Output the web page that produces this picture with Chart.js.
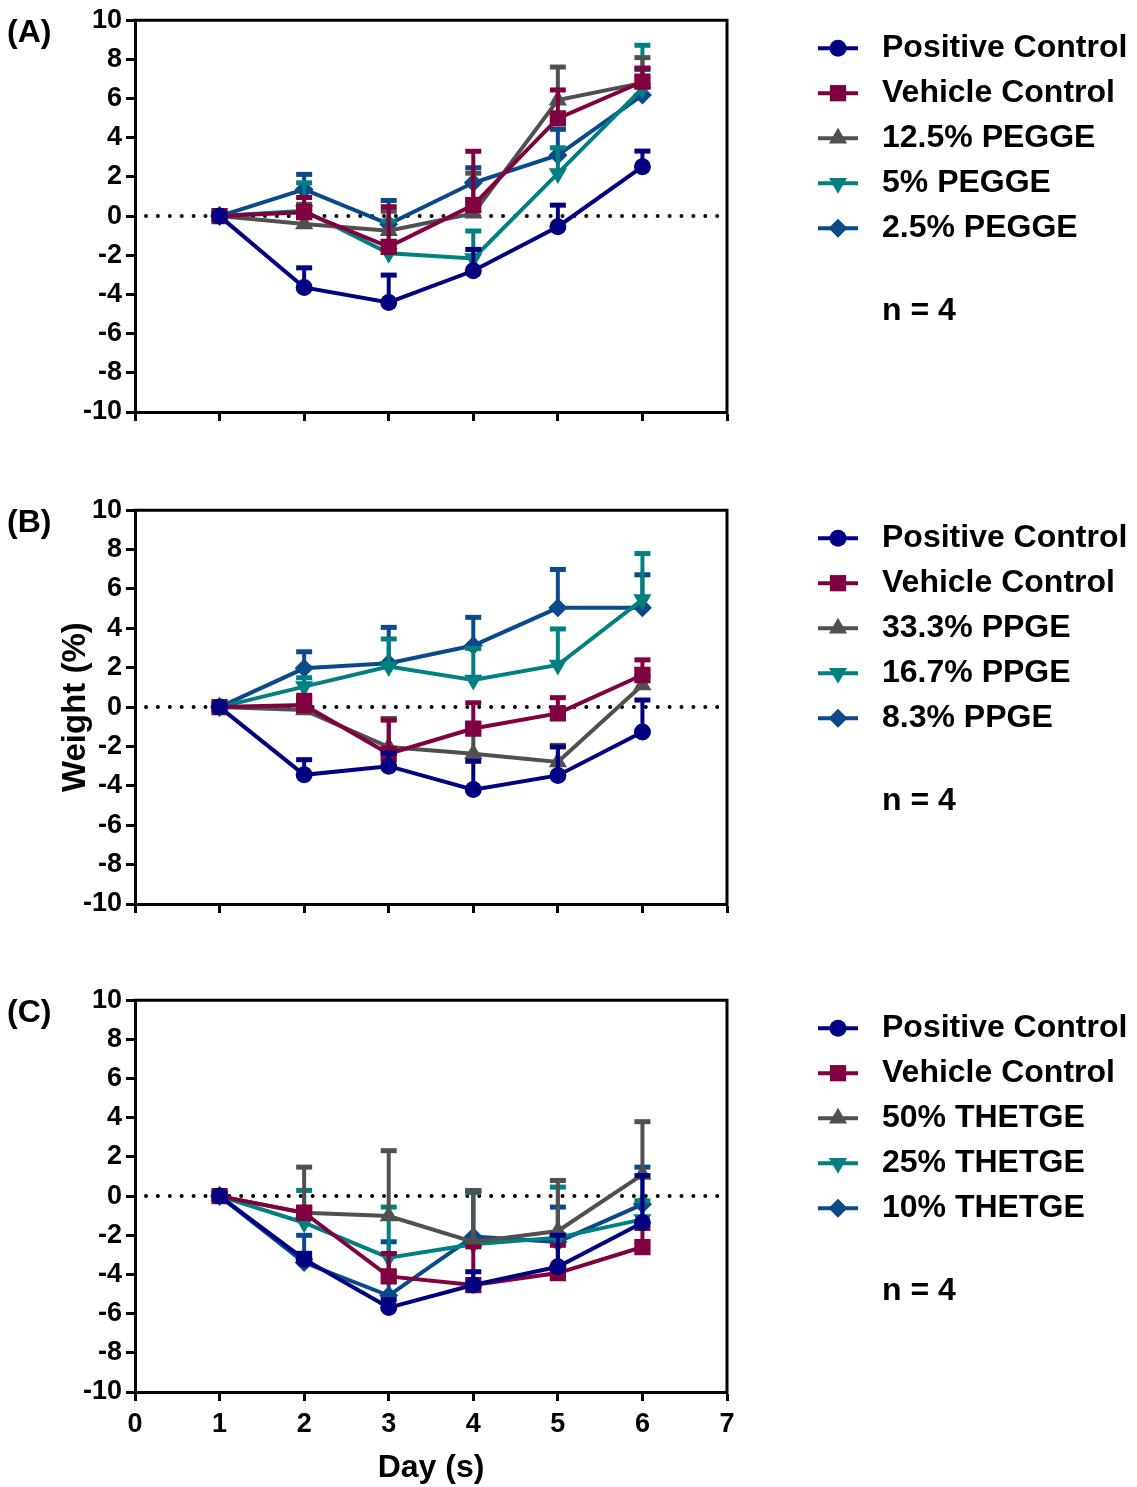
<!DOCTYPE html>
<html>
<head>
<meta charset="utf-8">
<title>Weight change</title>
<script src="https://cdn.jsdelivr.net/npm/chart.js@4.4.1/dist/chart.umd.min.js"></script>
<style>
  body { margin: 0; background: #fff; }
  #wrap { position: relative; width: 1137px; height: 1487px; }
  canvas { position: absolute; left: 0; }
</style>
</head>
<body>
<div id="wrap">
  <canvas id="panelA" width="1137" height="490" style="top:0px"></canvas>
  <canvas id="panelB" width="1137" height="490" style="top:490px"></canvas>
  <canvas id="panelC" width="1137" height="507" style="top:980px"></canvas>
</div>
<script>
// days measured
const days = [1, 2, 3, 4, 5, 6];
const xMin = 0, xMax = 7;
const yMin = -10, yMax = 10, yStep = 2;

// (A) PEGGE
const labelsA = ['Positive Control', 'Vehicle Control', '12.5% PEGGE', '5% PEGGE', '2.5% PEGGE'];
const posA      = [0, -3.64, -4.41, -2.79, -0.54, 2.52];
const posAErr   = [0, 1.05, 1.45, 1.14, 1.15, 0.85];
const vehA      = [0, 0.2, -1.57, 0.56, 4.99, 6.86];
const vehAErr   = [0, 0.8, 2.1, 2.8, 1.5, 0.75];
const pegge125    = [0, -0.4, -0.75, 0.14, 5.92, 6.8];
const pegge125Err = [0, 1.05, 1.05, 2.1, 1.74, 1.34];
const pegge5      = [0, 0.27, -1.9, -2.16, 2.18, 6.52];
const pegge5Err   = [0, 1.48, 1.7, 1.45, 1.36, 2.25];
const pegge25     = [0, 1.36, -0.41, 1.7, 3.11, 6.18];
const pegge25Err  = [0, 0.82, 1.26, 0.82, 1.37, 1.36];

// (B) PPGE
const labelsB = ['Positive Control', 'Vehicle Control', '33.3% PPGE', '16.7% PPGE', '8.3% PPGE'];
const posB      = [0, -3.44, -3.0, -4.19, -3.47, -1.26];
const posBErr   = [0, 0.82, 0.72, 1.49, 1.5, 1.67];
const vehB      = [0, 0.1, -2.37, -1.09, -0.32, 1.63];
const vehBErr   = [0, 0.55, 1.76, 1.36, 0.85, 0.82];
const ppge333    = [0, -0.15, -2.03, -2.37, -2.79, 1.12];
const ppge333Err = [0, 0.75, 1.5, 1.5, 0.9, 0.5];
const ppge167    = [0, 1.04, 2.06, 1.38, 2.14, 5.46];
const ppge167Err = [0, 0.5, 1.45, 1.65, 1.88, 2.39];
const ppge83     = [0, 1.97, 2.23, 3.13, 5.04, 5.04];
const ppge83Err  = [0, 0.89, 1.87, 1.48, 2.0, 1.73];

// (C) THETGE
const labelsC = ['Positive Control', 'Vehicle Control', '50% THETGE', '25% THETGE', '10% THETGE'];
const posC      = [0, -3.22, -5.69, -4.54, -3.61, -1.36];
const posCErr   = [0, 0.35, 0.45, 0.73, 1.66, 2.46];
const vehC      = [0, -0.85, -4.1, -4.54, -3.93, -2.6];
const vehCErr   = [0, 0.3, 1.22, 2.0, 1.47, 1.0];
const thetge50    = [0, -0.85, -1.02, -2.34, -1.78, 1.1];
const thetge50Err = [0, 2.38, 3.39, 2.65, 2.63, 2.75];
const thetge25    = [0, -1.36, -3.14, -2.46, -2.12, -1.19];
const thetge25Err = [0, 1.7, 2.63, 2.7, 2.63, 1.0];
const thetge10    = [0, -3.39, -5.08, -2.07, -2.34, -0.42];
const thetge10Err = [0, 1.44, 2.8, 2.4, 1.83, 1.95];

const sampleNote = 'n = 4';

// series look, same order in every panel
const colors = ['#000080', '#800040', '#505050', '#008080', '#0b4a8a'];
const shapes = ['circle', 'rect', 'triangle', 'triangle', 'rectRot'];
const turns  = [0, 0, 0, 180, 0];
const sizes  = [8.5, 11.5, 10.5, 10.5, 9.5];

const FONT = '"Liberation Sans", Arial, Helvetica, sans-serif';

// upper error bars, drawn right before their own series
const errorBars = {
  id: 'errorBars',
  beforeDatasetDraw(chart, args) {
    const ds = chart.data.datasets[args.index];
    const yScale = chart.scales.y;
    const ctx = chart.ctx;
    ctx.save();
    ctx.strokeStyle = ds.borderColor;
    args.meta.data.forEach((pt, j) => {
      const e = ds.errUp[j];
      if (!e) return;
      const v = ds.data[j].y;
      const y0 = yScale.getPixelForValue(v);
      const y1 = yScale.getPixelForValue(v + e);
      ctx.lineWidth = 4;
      ctx.beginPath();
      ctx.moveTo(pt.x, y0);
      ctx.lineTo(pt.x, y1);
      ctx.stroke();
      ctx.lineWidth = 5;
      ctx.beginPath();
      ctx.moveTo(pt.x - 8, y1 + 1);
      ctx.lineTo(pt.x + 8, y1 + 1);
      ctx.stroke();
    });
    ctx.restore();
  }
};

// dotted baseline at 0 and the top/right sides of the box
const frame = {
  id: 'frame',
  beforeDatasetsDraw(chart) {
    const {ctx, chartArea: a} = chart;
    const y = chart.scales.y.getPixelForValue(0);
    ctx.save();
    ctx.strokeStyle = '#000';
    ctx.lineWidth = 4;
    ctx.lineCap = 'round';
    ctx.setLineDash([0, 11.9]);
    ctx.beginPath();
    ctx.moveTo(a.left + 11, y);
    ctx.lineTo(a.right, y);
    ctx.stroke();
    ctx.restore();
  },
  afterDraw(chart) {
    const {ctx, chartArea: a} = chart;
    ctx.save();
    ctx.strokeStyle = '#000';
    ctx.lineWidth = 3;
    ctx.beginPath();
    ctx.moveTo(a.left - 1.5, a.top);
    ctx.lineTo(a.right, a.top);
    ctx.lineTo(a.right, a.bottom + 1.5);
    ctx.stroke();
    ctx.restore();
  }
};

// legend on the right, panel letter on the left
const sideLegend = {
  id: 'sideLegend',
  afterDraw(chart, args, opts) {
    const ctx = chart.ctx;
    const top = chart.chartArea.top;
    ctx.save();
    ctx.textBaseline = 'middle';
    ctx.textAlign = 'left';
    chart.data.datasets.forEach((ds, i) => {
      const y = top + 28 + i * 45;
      ctx.strokeStyle = ds.borderColor;
      ctx.fillStyle = ds.borderColor;
      ctx.lineWidth = 4;
      ctx.beginPath();
      ctx.moveTo(818, y);
      ctx.lineTo(858, y);
      ctx.stroke();
      Chart.helpers.drawPoint(ctx, {
        pointStyle: ds.pointStyle,
        radius: ds.pointRadius,
        rotation: ds.pointRotation,
        borderWidth: 0
      }, 838, y);
      ctx.fillStyle = '#000';
      ctx.font = 'bold 32px ' + FONT;
      ctx.fillText(ds.label, 882, y);
    });
    ctx.fillStyle = '#000';
    ctx.fillText(sampleNote, 882, top + 291);
    ctx.font = 'bold 32px ' + FONT;
    ctx.fillText(opts.tag, 7, top + 13);
    ctx.restore();
  }
};

function makePanel(id, labels, values, errs, tag, o) {
  const datasets = values.map((vals, i) => ({
    label: labels[i],
    data: days.map((d, j) => ({x: d, y: vals[j]})),
    errUp: errs[i],
    borderColor: colors[i],
    backgroundColor: colors[i],
    borderWidth: 4,
    pointStyle: shapes[i],
    pointRotation: turns[i],
    pointRadius: sizes[i],
    pointBorderWidth: 0,
    pointBackgroundColor: colors[i],
    tension: 0,
    fill: false
  }));

  return new Chart(document.getElementById(id), {
    type: 'line',
    data: {datasets: datasets},
    options: {
      responsive: false,
      animation: false,
      events: [],
      layout: {padding: {left: 0, right: 410, top: o.top, bottom: 0}},
      plugins: {
        legend: {display: false},
        tooltip: {enabled: false},
        sideLegend: {tag: tag}
      },
      scales: {
        x: {
          type: 'linear',
          min: xMin,
          max: xMax,
          afterFit(scale) { scale.height = o.xHeight; },
          border: {display: true, color: '#000', width: 3},
          grid: {drawOnChartArea: false, drawTicks: true, tickLength: 9, tickWidth: 3, tickColor: '#000'},
          ticks: {
            display: o.xLabels,
            stepSize: 1,
            color: '#000',
            padding: 7,
            font: {family: FONT, size: 27, weight: 'bold'}
          },
          title: {
            display: o.xLabels,
            text: 'Day (s)',
            color: '#000',
            padding: {top: 0, bottom: 0},
            font: {family: FONT, size: 32, weight: 'bold'}
          }
        },
        y: {
          min: yMin,
          max: yMax,
          afterFit(scale) { scale.width = 135; },
          border: {display: true, color: '#000', width: 3},
          grid: {drawOnChartArea: false, drawTicks: true, tickLength: 9, tickWidth: 3, tickColor: '#000'},
          ticks: {
            stepSize: yStep,
            color: '#000',
            padding: 4,
            font: {family: FONT, size: 27, weight: 'bold'}
          },
          title: {
            display: o.yTitle,
            text: 'Weight (%)',
            color: '#000',
            padding: {top: 56, bottom: 0},
            font: {family: FONT, size: 33, weight: 'bold'}
          }
        }
      }
    },
    plugins: [errorBars, frame, sideLegend]
  });
}

makePanel('panelA', labelsA,
  [posA, vehA, pegge125, pegge5, pegge25],
  [posAErr, vehAErr, pegge125Err, pegge5Err, pegge25Err],
  '(A)', {top: 18, xHeight: 78, xLabels: false, yTitle: false});

makePanel('panelB', labelsB,
  [posB, vehB, ppge333, ppge167, ppge83],
  [posBErr, vehBErr, ppge333Err, ppge167Err, ppge83Err],
  '(B)', {top: 19, xHeight: 76, xLabels: false, yTitle: true});

makePanel('panelC', labelsC,
  [posC, vehC, thetge50, thetge25, thetge10],
  [posCErr, vehCErr, thetge50Err, thetge25Err, thetge10Err],
  '(C)', {top: 16, xHeight: 95, xLabels: true, yTitle: false});
</script>
</body>
</html>
